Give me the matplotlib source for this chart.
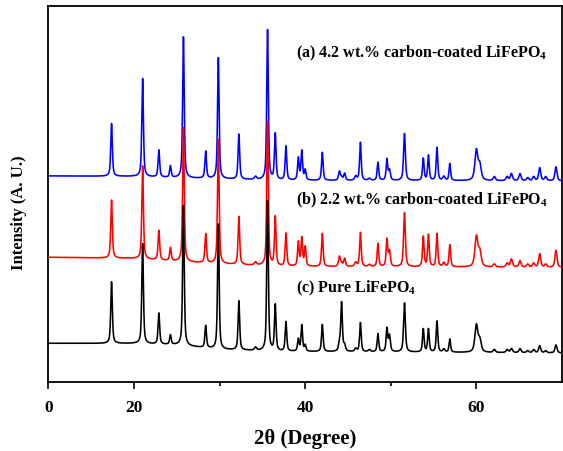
import numpy as np
import matplotlib
matplotlib.use("Agg")
import matplotlib.pyplot as plt
from matplotlib.ticker import FixedLocator, FixedFormatter

plt.rcParams["font.family"] = ["Liberation Serif", "DejaVu Serif"]
plt.rcParams["font.weight"] = "bold"
plt.rcParams["mathtext.fontset"] = "custom"
plt.rcParams["mathtext.rm"] = "Liberation Serif:bold"
plt.rcParams["mathtext.it"] = "Liberation Serif:bold"
plt.rcParams["mathtext.bf"] = "Liberation Serif:bold"

# Reflection positions (2-theta, degrees)
peak_pos = [17.37, 21.0, 22.9, 24.25, 25.77, 28.37, 29.85, 32.25, 34.2, 35.6,
            36.5, 37.75, 39.2, 39.6, 40.0, 42.0, 44.0, 44.25, 44.6, 45.9,
            46.45, 47.5, 48.5, 49.55, 49.85, 51.6, 53.8, 54.4, 55.4, 56.2,
            56.9, 60.0, 60.4, 62.1, 63.6, 64.1, 65.1, 66.0, 66.7, 67.4,
            68.1, 69.3]
peak_fwhm = [0.22, 0.22, 0.22, 0.22, 0.22, 0.22, 0.22, 0.22, 0.3, 0.22,
             0.22, 0.22, 0.22, 0.22, 0.22, 0.22, 0.25, 0.22, 0.25, 0.3,
             0.22, 0.3, 0.22, 0.22, 0.25, 0.25, 0.22, 0.22, 0.22, 0.3,
             0.22, 0.4, 0.4, 0.3, 0.3, 0.3, 0.3, 0.3, 0.3, 0.28,
             0.3, 0.28]

# Peak heights above background (arbitrary units)
h_a = [52.7, 98, 27, 11.5, 141, 27, 121, 45, 3, 150,
       46, 34, 22, 29, 10, 28, 9, 3, 7, 4,
       38, 2, 18, 21, 10, 47, 22, 25, 33, 4,
       17, 30, 15, 4, 4, 7, 7, 3, 4, 13,
       4, 14]
h_b = [58, 93, 29.5, 13, 134, 29, 124, 48, 3, 144,
       49, 33, 24, 28, 19, 33, 10, 3, 8, 4,
       34, 2, 23, 27, 15, 54, 30, 32, 33, 4,
       22, 30, 15, 3, 4, 8, 6.5, 3, 4, 13.5,
       3, 17]
h_c = [61.6, 100, 31, 9.5, 140, 22, 125, 49, 3, 150,
       46, 29.5, 12, 26, 6, 27, 7.5, 48.5, 6, 3,
       29, 2, 18, 23, 16, 49, 23, 23, 31, 3,
       13, 27, 12, 3, 3, 4, 4, 2, 3, 7,
       2, 8]

# Background level of each pattern (stacked offsets)
bg_x = [10, 20, 25, 30, 37, 70]
bg_a = [206, 205.5, 204, 203, 201.5, 201]
bg_b = [124.7, 123.5, 120.5, 118, 115.5, 114.5]
bg_c = [38.7, 38.5, 37, 32.5, 30.5, 29]

labels = ["(a) 4.2 wt.% carbon-coated LiFePO$_4$",
          "(b) 2.2 wt.% carbon-coated LiFePO$_4$",
          "(c) Pure LiFePO$_4$"]
colors = ["#0000ff", "#ff0000", "#000000"]

x_ticks = [10, 20, 40, 60]
x_ticklabels = ["0", "20", "40", "60"]
x_minor = [30, 50]


def pattern(tt, heights, bg):
    y = np.interp(tt, bg_x, bg)
    for p, w, h in zip(peak_pos, peak_fwhm, heights):
        g = np.exp(-4 * np.log(2) * ((tt - p) / w) ** 2)
        lor = 1.0 / (1.0 + 4 * ((tt - p) / w) ** 2)
        y = y + h * (0.6 * lor + 0.4 * g)
    return y


tt = np.arange(10.0, 70.0, 0.01)

fig = plt.figure(figsize=(5.63, 4.51), dpi=100)
ax = fig.add_axes([0.0861, 0.153, 0.912, 0.834])

for z, (hts, bg, col) in enumerate([(h_a, bg_a, colors[0]),
                                    (h_b, bg_b, colors[1]),
                                    (h_c, bg_c, colors[2])]):
    ax.plot(tt, pattern(tt, hts, bg), color=col, lw=1.15, zorder=2 + z)

ax.set_xlim(10, 70)
ax.set_ylim(0, 376)

ax.text(0.482, 0.873, labels[0], transform=ax.transAxes, fontsize=11.5,
        fontweight="bold", va="center", ha="left")
ax.text(0.482, 0.482, labels[1], transform=ax.transAxes, fontsize=11.5,
        fontweight="bold", va="center", ha="left")
ax.text(0.482, 0.25, labels[2], transform=ax.transAxes, fontsize=11.5,
        fontweight="bold", va="center", ha="left")

ax.xaxis.set_major_locator(FixedLocator(x_ticks))
ax.xaxis.set_major_formatter(FixedFormatter(x_ticklabels))
ax.xaxis.set_minor_locator(FixedLocator(x_minor))
ax.tick_params(axis="x", which="major", direction="out", length=5, width=1.2,
               labelsize=12.5, pad=8)
ax.tick_params(axis="x", which="minor", direction="out", length=3, width=1.2)
ax.set_yticks([])
for lbl in ax.get_xticklabels():
    lbl.set_fontweight("bold")

for s in ax.spines.values():
    s.set_linewidth(1.3)

ax.set_xlabel("2θ (Degree)", fontsize=15, fontweight="bold", labelpad=9)
ax.set_ylabel("Intensity (A. U.)", fontsize=12, fontweight="bold")
ax.yaxis.set_label_coords(-0.042, 0.449)

fig.savefig("out.png", dpi=100)
